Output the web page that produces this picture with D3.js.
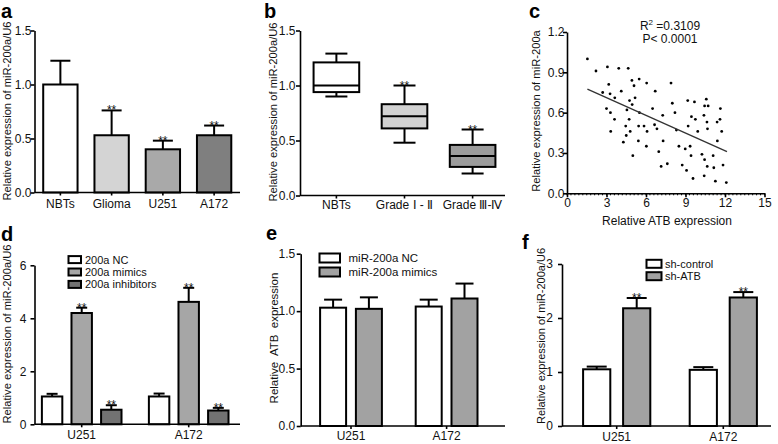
<!DOCTYPE html>
<html><head><meta charset="utf-8">
<script src="https://cdn.jsdelivr.net/npm/d3@7"></script>
<style>
body{margin:0;background:#fff;}
svg{display:block;font-family:"Liberation Sans", Arial, sans-serif;}
</style></head><body>
<svg id="chart" width="778" height="444"></svg>
<script>
// ---------- DATA ----------
// Panel a
const aCategories = ["NBTs", "Glioma", "U251", "A172"];
const aMeans = [1.0, 0.53, 0.40, 0.53];
const aErrTop = [1.22, 0.76, 0.48, 0.62];
const aStars = ["", "**", "**", "**"];
const aFills = ["#ffffff", "#d4d4d4", "#a9a9a9", "#7f7f7f"];
const aTicks = [0, 0.5, 1.0, 1.5];

// Panel b (box plot)
const bCategories = ["NBTs", "Grade \u2160 - \u2161", "Grade \u2162-\u2163"];
const bMin = [0.90, 0.48, 0.20];
const bQ1 = [0.94, 0.61, 0.26];
const bMedian = [1.00, 0.72, 0.36];
const bQ3 = [1.21, 0.83, 0.46];
const bMax = [1.29, 1.00, 0.60];
const bStars = ["", "**", "**"];
const bFills = ["#ffffff", "#d2d2d2", "#9c9c9c"];
const bTicks = [0, 0.5, 1.0, 1.5];

// Panel c (scatter)
const cPoints = [
  [1.55,1.00],[2.2,0.91],[3.07,0.94],[3.93,0.93],[4.65,0.93],
  [2.71,0.75],[3.17,0.81],[3.27,0.74],[3.63,0.71],[3.0,0.63],[3.3,0.60],[3.32,0.46],[3.61,0.55],
  [4.12,0.76],[4.93,0.84],[5.09,0.80],[5.48,0.85],[5.17,0.71],[4.75,0.69],[4.95,0.66],[4.55,0.62],[4.72,0.55],[5.5,0.60],
  [4.46,0.50],[4.5,0.43],[4.28,0.38],[4.8,0.46],[5.44,0.50],[5.42,0.39],[5.0,0.28],
  [6.05,0.82],[5.85,0.50],[6.08,0.46],[6.03,0.35],[6.5,0.63],[6.7,0.76],[6.65,0.51],[6.83,0.48],[6.97,0.31],[7.15,0.20],[7.27,0.58],[7.3,0.39],[7.62,0.22],
  [7.9,0.82],[8.0,0.67],[8.2,0.60],[8.31,0.47],[8.5,0.35],[8.75,0.21],[8.98,0.33],[9.08,0.17],[9.17,0.69],[9.2,0.50],[9.35,0.35],[9.45,0.57],[9.42,0.28],[9.57,0.11],[9.68,0.68],[9.75,0.55],[9.93,0.46],
  [10.25,0.29],[10.4,0.58],[10.45,0.65],[10.58,0.70],[10.72,0.65],[10.63,0.53],[10.67,0.48],[10.42,0.13],[10.65,0.20],[10.45,0.25],[11.1,0.28],[11.15,0.19],[11.27,0.09],[11.42,0.39],[11.65,0.63],[11.62,0.55],[11.75,0.46],[11.85,0.21],[12.1,0.08],[11.4,0.53]
];
const cFitX = [1.55, 12.15];
const cFitY = [0.775, 0.31];
const cXTicks = [0, 3, 6, 9, 12, 15];
const cYTicks = [0, 0.3, 0.6, 0.9, 1.2];
const cR2 = "0.3109";
const cP = "P< 0.0001";

// Panel d
const dGroups = ["U251", "A172"];
const dSeries = ["200a NC", "200a mimics", "200a inhibitors"];
const dMeans = [[1.05, 4.20, 0.55], [1.05, 4.62, 0.52]];
const dErrTop = [[1.15, 4.40, 0.72], [1.16, 5.15, 0.62]];
const dStars = [["", "**", "**"], ["", "**", "**"]];
const dFills = ["#ffffff", "#a6a6a6", "#727272"];
const dTicks = [0, 2, 4, 6];

// Panel e
const eGroups = ["U251", "A172"];
const eSeries = ["miR-200a NC", "miR-200a mimics"];
const eMeans = [[1.03, 1.02], [1.04, 1.11]];
const eErrTop = [[1.10, 1.12], [1.10, 1.24]];
const eFills = ["#ffffff", "#a2a2a2"];
const eTicks = [0, 0.5, 1.0, 1.5];

// Panel f
const fGroups = ["U251", "A172"];
const fSeries = ["sh-control", "sh-ATB"];
const fMeans = [[1.05, 2.18], [1.04, 2.38]];
const fErrTop = [[1.10, 2.37], [1.09, 2.48]];
const fStars = [["", "**"], ["", "**"]];
const fFills = ["#ffffff", "#a2a2a2"];
const fTicks = [0, 1, 2, 3];

// ---------- DRAWING ----------
const svg = d3.select("#chart");
const FS = 12;

function panelLabel(t, x, y) {
  svg.append("text").attr("x", x).attr("y", y).attr("font-size", 20)
    .attr("font-weight", "bold").attr("fill", "#000").text(t);
}
function yTitle(t, x, yc, fs) {
  svg.append("text").attr("transform", `translate(${x},${yc}) rotate(-90)`)
    .attr("text-anchor", "middle").attr("font-size", fs || FS).attr("fill", "#111")
    .attr("xml:space", "preserve").style("white-space", "pre").text(t);
}
function styleAxis(g) {
  g.selectAll("path,line").attr("stroke", "#000").attr("stroke-width", 1.6);
  g.selectAll("text").attr("font-size", FS).attr("fill", "#111");
  g.attr("font-family", null);
}
function leftAxis(x0, y, ticks, fmt, gap) {
  const g = svg.append("g").attr("transform", `translate(${x0},0)`)
    .call(d3.axisLeft(y).tickValues(ticks).tickFormat(fmt).tickSize(4).tickSizeOuter(0).tickPadding(gap - 4));
  styleAxis(g);
  return g;
}
function bottomLine(x1, x2, y0) {
  svg.append("line").attr("x1", x1).attr("x2", x2).attr("y1", y0).attr("y2", y0)
    .attr("stroke", "#000").attr("stroke-width", 1.6);
}
function bottomCats(x, y0, pad) {
  const g = svg.append("g").attr("transform", `translate(0,${y0})`)
    .call(d3.axisBottom(x).tickSize(3).tickSizeOuter(0).tickPadding(pad));
  g.select(".domain").remove();
  styleAxis(g);
  return g;
}
function errBar(cx, yTop, yBase, capW) {
  svg.append("line").attr("x1", cx).attr("x2", cx).attr("y1", yBase).attr("y2", yTop)
    .attr("stroke", "#000").attr("stroke-width", 2);
  svg.append("line").attr("x1", cx - capW / 2).attr("x2", cx + capW / 2).attr("y1", yTop).attr("y2", yTop)
    .attr("stroke", "#000").attr("stroke-width", 2);
}
function stars(s, cx, yTop) {
  if (!s) return;
  svg.append("text").attr("x", cx).attr("y", yTop + 4).attr("text-anchor", "middle")
    .attr("font-size", FS).attr("fill", "#111").text(s);
}
function legend(series, fills, bx, bw, bh, rows, tx, fs) {
  series.forEach((s, i) => {
    svg.append("rect").attr("x", bx).attr("y", rows[i] - bh / 2).attr("width", bw).attr("height", bh)
      .attr("fill", fills[i]).attr("stroke", "#000").attr("stroke-width", 2);
    svg.append("text").attr("x", tx).attr("y", rows[i] + fs * 0.36).attr("font-size", fs)
      .attr("fill", "#111").text(s);
  });
}

// ----- Panel a -----
{
  panelLabel("a", 1, 18);
  const x = d3.scaleBand().domain(aCategories).range([34.5, 240]).paddingInner(0.33).paddingOuter(0.17);
  const y = d3.scaleLinear().domain([0, 1.5]).range([192.5, 30.5]);
  aCategories.forEach((c, i) => {
    const cx = x(c) + x.bandwidth() / 2;
    errBar(cx, y(aErrTop[i]), y(aMeans[i]), 20);
    svg.append("rect").attr("x", x(c)).attr("y", y(aMeans[i])).attr("width", x.bandwidth())
      .attr("height", y(0) - y(aMeans[i])).attr("fill", aFills[i]).attr("stroke", "#000").attr("stroke-width", 2);
    stars(aStars[i], cx, y(aErrTop[i]));
  });
  leftAxis(34.5, y, aTicks, d3.format(".1f"), 3);
  bottomLine(34.5, 240, y(0));
  bottomCats(x, y(0), 4);
  yTitle("Relative expression of miR-200a/U6", 10.5, 111, 11.2);
}

// ----- Panel b -----
{
  panelLabel("b", 264, 18);
  const x = d3.scaleBand().domain(bCategories).range([302, 507]).paddingInner(0.33).paddingOuter(0.17);
  const y = d3.scaleLinear().domain([0, 1.5]).range([195.5, 30.5]);
  bCategories.forEach((c, i) => {
    const x0 = x(c), bw = x.bandwidth(), cx = x0 + bw / 2;
    const line = (x1, x2, y1, y2) => svg.append("line").attr("x1", x1).attr("x2", x2).attr("y1", y1).attr("y2", y2)
      .attr("stroke", "#000").attr("stroke-width", 2);
    line(cx, cx, y(bQ3[i]), y(bMax[i]));
    line(cx, cx, y(bQ1[i]), y(bMin[i]));
    line(cx - 11, cx + 11, y(bMax[i]), y(bMax[i]));
    line(cx - 11, cx + 11, y(bMin[i]), y(bMin[i]));
    svg.append("rect").attr("x", x0).attr("y", y(bQ3[i])).attr("width", bw).attr("height", y(bQ1[i]) - y(bQ3[i]))
      .attr("fill", bFills[i]).attr("stroke", "#000").attr("stroke-width", 2);
    line(x0, x0 + bw, y(bMedian[i]), y(bMedian[i]));
    stars(bStars[i], cx, y(bMax[i]));
  });
  leftAxis(300, y, bTicks, d3.format(".1f"), 4.5);
  bottomLine(300, 505, y(0));
  bottomCats(x, y(0), 2);
  yTitle("Relative expression of miR-200a/U6", 277, 112, 11.2);
}

// ----- Panel c -----
{
  panelLabel("c", 529, 18);
  const x = d3.scaleLinear().domain([0, 15]).range([567, 764.5]);
  const y = d3.scaleLinear().domain([0, 1.2]).range([193.3, 32]);
  svg.append("g").selectAll("circle").data(cPoints).join("circle")
    .attr("cx", d => x(d[0])).attr("cy", d => y(d[1])).attr("r", 1.4).attr("fill", "#000");
  svg.append("line").attr("x1", x(cFitX[0])).attr("y1", y(cFitY[0])).attr("x2", x(cFitX[1])).attr("y2", y(cFitY[1]))
    .attr("stroke", "#333").attr("stroke-width", 1.3);
  leftAxis(567, y, cYTicks, d3.format(".1f"), 2.5);
  const gx = svg.append("g").attr("transform", `translate(0,${y(0)})`)
    .call(d3.axisBottom(x).tickValues(cXTicks).tickFormat(d3.format("d")).tickSize(4).tickSizeOuter(0).tickPadding(1.5));
  styleAxis(gx);
  svg.append("g").attr("transform", `translate(0,${y(0)})`).selectAll("line")
    .data(d3.range(0, 15.01, 0.3)).join("line")
    .attr("x1", d => x(d)).attr("x2", d => x(d)).attr("y1", 0).attr("y2", 2)
    .attr("stroke", "#000").attr("stroke-width", 1);
  svg.append("text").attr("x", 667).attr("y", 225).attr("text-anchor", "middle").attr("font-size", 12)
    .attr("fill", "#111").text("Relative ATB expression");
  yTitle("Relative expression of miR-200a", 540, 111, 11.2);
  const r2 = svg.append("text").attr("x", 670).attr("y", 30).attr("text-anchor", "middle")
    .attr("font-size", 12).attr("fill", "#111");
  r2.append("tspan").text("R");
  r2.append("tspan").attr("font-size", 8).attr("dy", -5).text("2");
  r2.append("tspan").attr("dy", 5).text(" =" + cR2);
  svg.append("text").attr("x", 670).attr("y", 42.5).attr("text-anchor", "middle")
    .attr("font-size", 12).attr("fill", "#111").text(cP);
}

// ----- grouped bar helper -----
function grouped(groups, series, means, errs, starsArr, fills, x0range, innerHalf, pi, po, y, capW) {
  const x0 = d3.scaleBand().domain(groups).range(x0range).padding(0);
  const x1 = d3.scaleBand().domain(series).range([-innerHalf, innerHalf]).paddingInner(pi).paddingOuter(po);
  groups.forEach((g, gi) => {
    const gc = x0(g) + x0.bandwidth() / 2;
    series.forEach((s, si) => {
      const bx = gc + x1(s), bw = x1.bandwidth(), cx = bx + bw / 2;
      const v = means[gi][si], e = errs[gi][si];
      errBar(cx, y(e), y(v), capW);
      svg.append("rect").attr("x", bx).attr("y", y(v)).attr("width", bw).attr("height", y(0) - y(v))
        .attr("fill", fills[si]).attr("stroke", "#000").attr("stroke-width", 2);
      if (starsArr) stars(starsArr[gi][si], cx, y(e));
    });
  });
  return x0;
}

// ----- Panel d -----
{
  panelLabel("d", 1, 241);
  const y = d3.scaleLinear().domain([0, 6]).range([424.3, 265.3]);
  const x0 = grouped(dGroups, dSeries, dMeans, dErrTop, dStars, dFills, [28.2, 242.2], 44.4, 0.31, 0.155, y, 11);
  leftAxis(34.5, y, dTicks, d3.format("d"), 8);
  bottomLine(34.5, 240, y(0));
  bottomCats(x0, y(0), 3);
  legend(dSeries, dFills, 68.5, 12.5, 7, [259.6, 272, 284.4], 85, 11);
  yTitle("Relative expression of miR-200a/U6", 10.5, 334, 11.2);
}

// ----- Panel e -----
{
  panelLabel("e", 266, 240);
  const y = d3.scaleLinear().domain([0, 1.5]).range([426, 253.7]);
  const x0 = grouped(eGroups, eSeries, eMeans, eErrTop, null, eFills, [303.2, 494.4], 35.8, 0.274, 0.137, y, 18);
  leftAxis(300.7, y, eTicks, d3.format(".1f"), 5.5);
  bottomLine(300.7, 505, y(0));
  bottomCats(x0, y(0), 2);
  legend(eSeries, eFills, 319.5, 20.5, 9, [258, 272], 348.5, 11.5);
  yTitle("Relative\u00a0 ATB\u00a0 expression", 277.5, 338, 11.5);
}

// ----- Panel f -----
{
  panelLabel("f", 522, 249);
  const y = d3.scaleLinear().domain([0, 3]).range([426, 264]);
  const x0 = grouped(fGroups, fSeries, fMeans, fErrTop, fStars, fFills, [563.4, 776.6], 40, 0.32, 0.16, y, 20);
  leftAxis(562, y, fTicks, d3.format("d"), 9);
  bottomLine(562, 771, y(0));
  bottomCats(x0, y(0), 3);
  legend(fSeries, fFills, 646.5, 15, 8, [263.8, 276.2], 665, 11);
  yTitle("Relative expression of miR-200a/U6", 545, 336, 11);
}
</script>
</body></html>
